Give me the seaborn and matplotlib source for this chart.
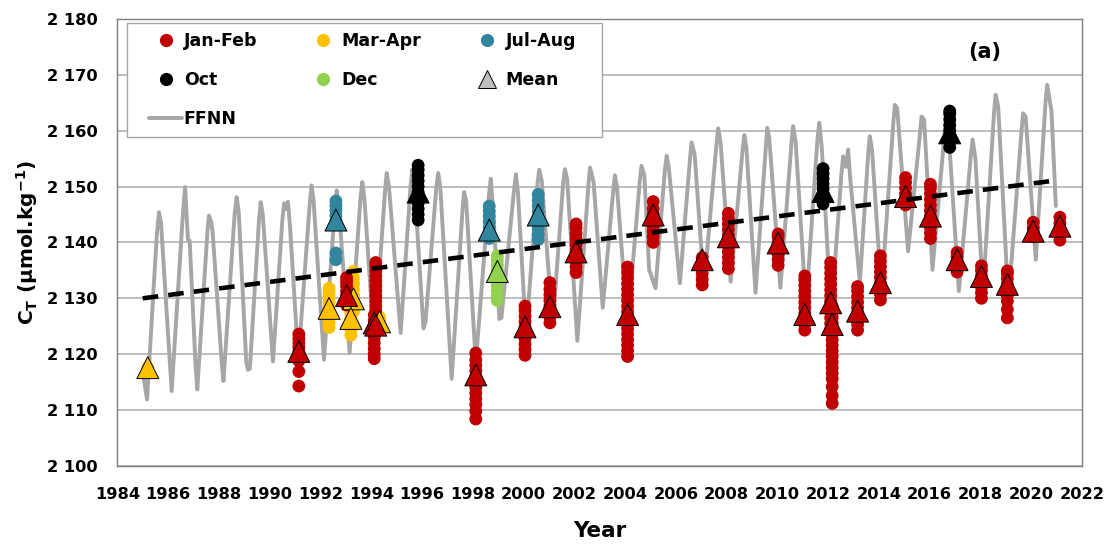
import numpy as np
import pandas as pd
import seaborn as sns
import matplotlib.pyplot as plt
from matplotlib.lines import Line2D
from matplotlib.patches import Rectangle

# ---------------------------------------------------------------- data
# FFNN reconstruction (decimal year, CT in umol/kg)
ffnn_time = [
    1985.03, 1985.17, 1985.55, 1985.64, 1985.72,
    1986.05, 1986.14, 1986.58, 1986.67, 1986.78, 1986.85,
    1987.08, 1987.15, 1987.55, 1987.61, 1987.70, 1987.75,
    1988.12, 1988.18, 1988.62, 1988.70, 1988.78,
    1989.08, 1989.15, 1989.22, 1989.58, 1989.65, 1989.73,
    1990.13, 1990.50, 1990.57, 1990.64, 1990.72, 1990.80,
    1991.13, 1991.58, 1991.65, 1991.73,
    1992.14, 1992.57, 1992.64, 1992.72,
    1993.15, 1993.58, 1993.65, 1993.73,
    1994.12, 1994.55, 1994.61, 1994.70,
    1995.16, 1995.55, 1995.62, 1995.70,
    1996.06, 1996.14, 1996.57, 1996.64, 1996.72,
    1997.17, 1997.60, 1997.66, 1997.74,
    1998.12, 1998.64, 1998.71, 1998.80,
    1999.05, 1999.13, 1999.63, 1999.70, 1999.78,
    2000.10, 2000.55, 2000.62, 2000.72,
    2001.15, 2001.56, 2001.63, 2001.72,
    2002.12, 2002.56, 2002.62, 2002.76,
    2003.12, 2003.54, 2003.60, 2003.68,
    2004.10, 2004.58, 2004.65, 2004.76, 2004.95, 2005.00,
    2005.20, 2005.57, 2005.64, 2005.72,
    2006.16, 2006.56, 2006.62, 2006.74,
    2007.11, 2007.60, 2007.67, 2007.76,
    2008.16, 2008.63, 2008.70, 2008.78,
    2009.14, 2009.55, 2009.60, 2009.68,
    2010.12, 2010.56, 2010.62, 2010.72,
    2011.13, 2011.58, 2011.65, 2011.75,
    2012.12, 2012.52, 2012.59, 2012.70, 2012.79, 2012.86,
    2013.25, 2013.58, 2013.64, 2013.73,
    2014.10, 2014.57, 2014.63, 2014.72,
    2015.15, 2015.62, 2015.68, 2015.78,
    2016.11, 2016.58, 2016.65, 2016.74,
    2017.15, 2017.62, 2017.69, 2017.80,
    2018.10, 2018.54, 2018.60, 2018.70,
    2019.10, 2019.62, 2019.68, 2019.78,
    2020.18, 2020.57, 2020.63, 2020.80, 2020.97,
]
ffnn_value = [
    2116.0, 2111.9, 2141.0, 2145.4, 2143.5,
    2120.0, 2113.4, 2145.0, 2149.9, 2140.5, 2140.3,
    2118.0, 2113.7, 2142.0, 2144.8, 2143.6, 2142.0,
    2118.0, 2115.2, 2145.0, 2148.1, 2145.5,
    2118.5, 2117.2, 2117.4, 2144.0, 2147.2, 2145.0,
    2118.7, 2144.0, 2147.0, 2146.0, 2147.3, 2143.0,
    2119.0, 2147.0, 2150.2, 2147.5,
    2119.0, 2146.0, 2149.3, 2146.5,
    2120.2, 2148.0, 2150.8, 2148.0,
    2121.5, 2149.5, 2152.4, 2150.0,
    2123.8, 2150.0, 2153.0, 2150.5,
    2124.6, 2125.8, 2150.0, 2152.4, 2150.0,
    2115.6, 2146.0, 2149.0, 2147.5,
    2118.5, 2148.5, 2151.4, 2146.0,
    2126.3, 2126.5, 2149.5, 2152.2, 2149.0,
    2123.5, 2150.5, 2153.0, 2151.0,
    2125.0, 2150.5, 2153.1, 2151.3,
    2122.4, 2150.5, 2153.4, 2150.8,
    2128.3, 2149.5, 2152.0, 2150.0,
    2125.0, 2151.0, 2153.7, 2152.0, 2135.0, 2134.5,
    2131.8, 2153.0, 2155.5, 2153.5,
    2132.7, 2155.0, 2157.9, 2155.8,
    2132.1, 2157.5, 2160.4, 2158.0,
    2133.0, 2156.5, 2159.2, 2157.0,
    2131.0, 2157.5, 2160.5, 2158.7,
    2131.9, 2158.0, 2160.8, 2158.0,
    2128.5, 2158.5, 2161.4, 2157.0,
    2127.0, 2152.0, 2155.4, 2153.5, 2156.6, 2152.0,
    2132.8, 2156.0, 2159.0, 2156.6,
    2131.0, 2161.5, 2164.6, 2164.0,
    2138.4, 2159.5, 2162.5, 2162.0,
    2135.1, 2159.0, 2162.0, 2160.0,
    2131.3, 2155.5, 2158.4, 2155.1,
    2131.0, 2163.5, 2166.4, 2164.3,
    2129.5, 2160.0, 2163.1, 2162.5,
    2136.9, 2165.5, 2168.2, 2163.4, 2146.5,
]

# long-term trend end points
trend_years = [1985.0, 2021.0]
trend_values = [2130.0, 2151.1]

# cruise observations: year of each cruise and the individual samples
janfeb_years = [1991.15, 1993.03, 1994.12, 1994.18, 1998.12, 2000.06, 2001.04,
                2002.07, 2004.10, 2005.11, 2007.04, 2008.07, 2010.03, 2011.08,
                2012.10, 2012.16, 2013.16, 2014.06, 2015.05, 2016.03, 2017.08,
                2018.04, 2019.06, 2020.08, 2021.13]
janfeb_samples = [
    [2114.3, 2116.9, 2118.8, 2119.6, 2120.4, 2121.2, 2122.0, 2122.8, 2123.6],
    [2128.8, 2129.6, 2130.5, 2131.3, 2132.2, 2133.0, 2133.7],
    [2119.2, 2120.0, 2121.0, 2122.0, 2123.0, 2124.0, 2125.0, 2126.0, 2127.0],
    [2127.8, 2128.6, 2129.5, 2130.4, 2131.3, 2132.2, 2133.1, 2134.0, 2134.9, 2135.8, 2136.4],
    [2108.4, 2109.8, 2111.0, 2112.0, 2113.0, 2114.0, 2115.0, 2116.0, 2117.0, 2118.0, 2119.0, 2120.2],
    [2119.8, 2120.8, 2121.8, 2122.8, 2123.8, 2124.8, 2125.8, 2126.8, 2127.8, 2128.6],
    [2125.6, 2126.6, 2127.6, 2128.6, 2129.6, 2130.6, 2131.6, 2132.8],
    [2134.6, 2135.6, 2136.6, 2137.6, 2138.6, 2139.6, 2140.6, 2141.6, 2142.6, 2143.3],
    [2119.6, 2120.6, 2121.6, 2122.6, 2123.6, 2124.6, 2125.6, 2126.6, 2127.6,
     2128.6, 2129.6, 2130.6, 2131.6, 2132.6, 2133.6, 2134.6, 2135.6],
    [2140.0, 2141.0, 2142.0, 2143.0, 2144.0, 2145.0, 2146.0, 2147.3],
    [2132.4, 2133.4, 2134.4, 2135.4, 2136.4, 2137.3],
    [2135.3, 2136.3, 2137.3, 2138.3, 2139.3, 2140.3, 2141.3, 2142.3, 2143.3, 2144.3, 2145.2],
    [2135.9, 2136.9, 2137.9, 2138.9, 2139.9, 2140.9, 2141.5],
    [2124.3, 2125.3, 2126.3, 2127.3, 2128.3, 2129.3, 2130.3, 2131.3, 2132.3, 2133.3, 2134.0],
    [2124.5, 2125.5, 2126.5, 2127.5, 2128.5, 2129.5, 2130.5, 2131.5, 2132.5, 2133.5,
     2134.5, 2135.5, 2136.4],
    [2111.2, 2112.6, 2114.2, 2115.6, 2116.6, 2117.6, 2118.6, 2119.6, 2120.6, 2121.6,
     2122.6, 2123.6, 2124.6, 2125.6, 2126.6, 2127.6, 2128.6],
    [2124.3, 2125.3, 2126.3, 2127.3, 2128.3, 2129.3, 2130.3, 2131.3, 2132.1],
    [2129.7, 2130.7, 2131.7, 2132.7, 2133.7, 2134.7, 2135.7, 2136.7, 2137.6],
    [2146.7, 2147.7, 2148.7, 2149.7, 2150.7, 2151.6],
    [2140.7, 2141.7, 2142.7, 2143.7, 2144.7, 2145.7, 2146.7, 2147.7, 2148.7, 2149.7, 2150.4],
    [2134.7, 2135.6, 2136.5, 2137.4, 2138.2],
    [2130.0, 2131.0, 2132.0, 2133.0, 2134.0, 2135.0, 2135.8],
    [2126.5, 2128.0, 2129.5, 2130.5, 2131.5, 2132.5, 2133.5, 2134.4, 2134.9],
    [2141.0, 2141.8, 2142.6, 2143.6],
    [2140.4, 2141.4, 2142.4, 2143.4, 2144.5],
]
janfeb_means = [2120.5, 2130.5, 2125.6, 2125.2, 2116.3, 2124.9, 2128.5, 2138.3,
                2127.1, 2144.9, 2136.9, 2141.0, 2139.9, 2127.1, 2129.2, 2125.3,
                2127.7, 2132.8, 2148.2, 2144.7, 2136.9, 2133.9, 2132.5, 2142.0,
                2142.9]

marapr_years = [1985.20, 1992.34, 1993.30, 1993.20, 1994.33]
marapr_samples = [
    [2117.6],
    [2124.8, 2125.7, 2126.6, 2127.5, 2128.4, 2129.3, 2130.2, 2131.1, 2131.8],
    [2127.6, 2128.6, 2129.6, 2130.6, 2131.6, 2132.6, 2133.6, 2134.8],
    [2123.4, 2124.4, 2125.4, 2126.4, 2127.4],
    [2124.8, 2125.8, 2126.6],
]
marapr_means = [2117.6, 2128.2, 2129.9, 2126.4, 2125.8]

julaug_years = [1992.61, 1998.65, 2000.58]
julaug_samples = [
    [2136.9, 2138.1, 2143.9, 2144.8, 2145.7, 2146.6, 2147.4],
    [2140.7, 2141.7, 2142.7, 2143.7, 2144.7, 2145.6, 2146.5],
    [2140.5, 2141.5, 2142.5, 2143.5, 2144.5, 2145.5, 2146.5, 2147.5, 2148.6],
]
julaug_means = [2144.0, 2142.2, 2144.9]

oct_years = [1995.85, 2011.80, 2016.79]
oct_samples = [
    [2144.0, 2145.0, 2146.0, 2147.0, 2148.0, 2149.0, 2150.0, 2151.0, 2152.0, 2153.0, 2153.8],
    [2146.9, 2147.8, 2148.7, 2149.6, 2150.5, 2151.4, 2152.3, 2153.2],
    [2157.0, 2158.0, 2159.0, 2160.0, 2161.0, 2162.0, 2163.0, 2163.5],
]
oct_means = [2149.0, 2149.1, 2159.6]

dec_years = [1998.97]
dec_samples = [[2129.6, 2130.5, 2131.4, 2132.3, 2133.2, 2134.1, 2135.0, 2135.9, 2136.8, 2137.6]]
dec_means = [2134.8]

season_colors = {"Jan-Feb": "#C00000", "Mar-Apr": "#FFC000",
                 "Jul-Aug": "#31859C", "Oct": "#000000", "Dec": "#92D050"}

y_ticks = [2100, 2110, 2120, 2130, 2140, 2150, 2160, 2170, 2180]
x_ticks = list(range(1984, 2023, 2))

# ---------------------------------------------------------------- frames
season_data = {
    "Mar-Apr": (marapr_years, marapr_samples, marapr_means),
    "Jan-Feb": (janfeb_years, janfeb_samples, janfeb_means),
    "Jul-Aug": (julaug_years, julaug_samples, julaug_means),
    "Oct": (oct_years, oct_samples, oct_means),
    "Dec": (dec_years, dec_samples, dec_means),
}
obs_rows, mean_rows = [], []
for name, (yrs, samples, means) in season_data.items():
    for yr, vals, m in zip(yrs, samples, means):
        for v in vals:
            obs_rows.append({"season": name, "year": yr, "ct": v})
        mean_rows.append({"season": name, "year": yr, "ct": m})
obs = pd.DataFrame(obs_rows)
means = pd.DataFrame(mean_rows)
ffnn = pd.DataFrame({"year": ffnn_time, "ct": ffnn_value})
trend = pd.DataFrame({"year": trend_years, "ct": trend_values})

# ---------------------------------------------------------------- style
sns.set_style("white")
plt.rcParams["font.family"] = ["DejaVu Sans"]
plt.rcParams["font.weight"] = "bold"
plt.rcParams["text.color"] = "black"
plt.rcParams["axes.labelcolor"] = "black"
plt.rcParams["xtick.labelcolor"] = "black"
plt.rcParams["ytick.labelcolor"] = "black"
plt.rcParams["mathtext.fontset"] = "custom"
plt.rcParams["mathtext.rm"] = "DejaVu Sans:bold"
plt.rcParams["mathtext.default"] = "rm"

fig, ax = plt.subplots(figsize=(11.07, 5.44), dpi=100)
fig.subplots_adjust(left=0.106, right=0.9774, bottom=0.1434, top=0.9654)

sns.lineplot(data=ffnn, x="year", y="ct", color="#A6A6A6", lw=2.8,
             sort=False, estimator=None, ax=ax, zorder=2)
sns.scatterplot(data=obs, x="year", y="ct", hue="season", palette=season_colors,
                s=85, linewidth=0, legend=False, ax=ax, zorder=3)
sns.scatterplot(data=means, x="year", y="ct", hue="season", palette=season_colors,
                marker="^", s=250, edgecolor="black", linewidth=0.7,
                legend=False, ax=ax, zorder=4)
sns.lineplot(data=trend, x="year", y="ct", color="black", lw=3.3,
             ls=(0, (3.4, 2.2)), sort=False, estimator=None, ax=ax, zorder=5)

# ---------------------------------------------------------------- axes
ax.set_xlim(1984, 2022)
ax.set_ylim(2100, 2180)
ax.set_xticks(x_ticks)
ax.set_yticks(y_ticks)
ax.set_yticklabels([f"{v:,}".replace(",", " ") for v in y_ticks])
ax.yaxis.grid(True, color="#B3B3B3", lw=1.2)
ax.xaxis.grid(False)
for sp in ax.spines.values():
    sp.set_color("#7F7F7F")
    sp.set_linewidth(1.0)
ax.tick_params(axis="both", which="major", labelsize=11.7, direction="out",
               length=6, width=1, color="#7F7F7F", labelcolor="black")
ax.tick_params(axis="y", pad=8)
ax.tick_params(axis="x", pad=9)
for lab in ax.get_xticklabels() + ax.get_yticklabels():
    lab.set_fontweight("bold")

ax.set_xlabel("Year", fontsize=15.5, fontweight="bold", labelpad=14, color="black")
ax.set_ylabel(r"C$_{T}$ (µmol.kg$^{-1}$)", fontsize=14.5, fontweight="bold",
              labelpad=5, color="black")
ax.text(0.8995, 0.926, "(a)", transform=ax.transAxes, fontsize=15,
        fontweight="bold", ha="center", va="center", color="black")

# ---------------------------------------------------------------- legend
# frame drawn as its own box so the entries can sit with Excel-like padding
ax.add_patch(Rectangle((0.010, 0.7357), 0.4924, 0.255, transform=ax.transAxes,
                       facecolor="white", edgecolor="#A6A6A6", lw=1.0, zorder=6))

def dot(color):
    return Line2D([], [], ls="none", marker="o", markersize=9.5,
                  markerfacecolor=color, markeredgewidth=0)

handles = [
    dot(season_colors["Jan-Feb"]), dot(season_colors["Oct"]),
    Line2D([], [], color="#A6A6A6", lw=2.8),
    dot(season_colors["Mar-Apr"]), dot(season_colors["Dec"]),
    dot(season_colors["Jul-Aug"]),
    Line2D([], [], ls="none", marker="^", markersize=12.5,
           markerfacecolor="#BFBFBF", markeredgecolor="black", markeredgewidth=0.7),
]
labels = ["Jan-Feb", "Oct", "FFNN", "Mar-Apr", "Dec", "Jul-Aug", "Mean"]
leg = ax.legend(handles, labels, ncol=3, loc="upper left",
                bbox_to_anchor=(0.0329, 0.9705), borderaxespad=0, borderpad=0,
                frameon=False, prop={"weight": "bold", "size": 12.5},
                handlelength=1.9, handletextpad=0.1, labelspacing=1.2,
                columnspacing=2.85)
leg.set_zorder(7)

fig.savefig("out.png", dpi=100)
